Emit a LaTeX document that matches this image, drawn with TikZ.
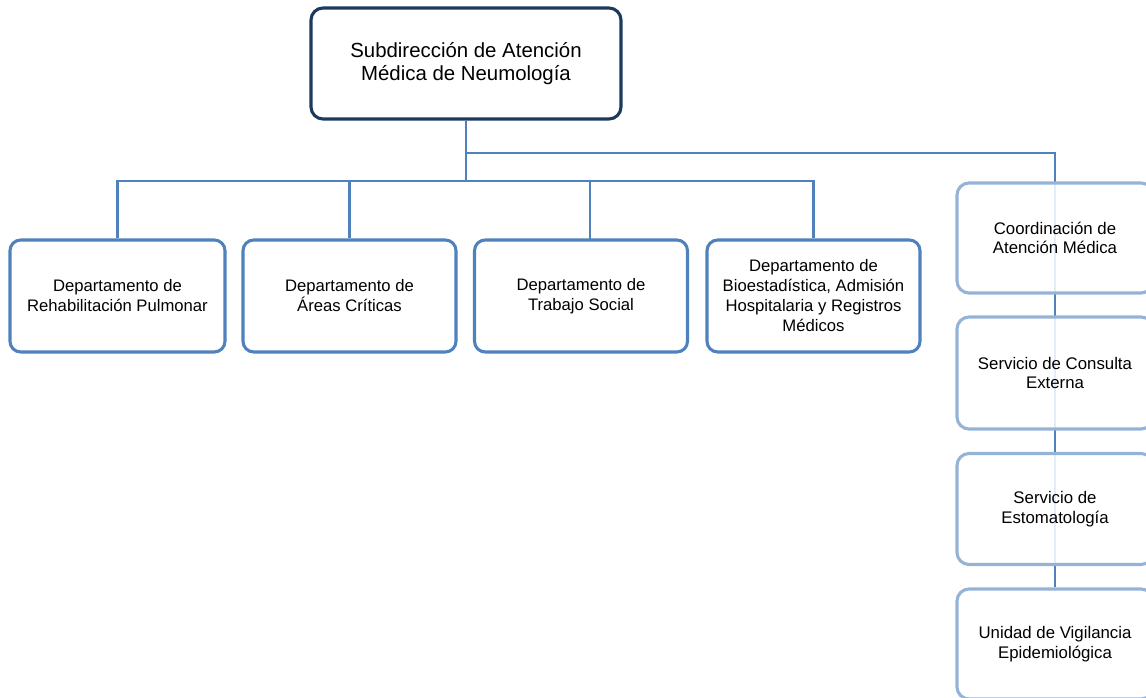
\documentclass[tikz,border=0pt]{standalone}
\usepackage{fontspec}
\setmainfont{Liberation Sans}
\usetikzlibrary{backgrounds}
\definecolor{linkblue}{HTML}{4F81BD}
\definecolor{navy}{HTML}{1B3A5E}
\definecolor{paleblue}{HTML}{95B3D7}
\begin{document}
\begin{tikzpicture}[x=0.75pt,y=-0.75pt,
  box/.style={draw=linkblue, line width=2.3pt, rounded corners=8pt, fill=white,
    align=center, font=\fontsize{12.5pt}{15pt}\selectfont, inner sep=0pt,
    minimum height=112*0.75pt},
  topbox/.style={draw=navy, line width=2.3pt, rounded corners=9pt, fill=white,
    align=center, font=\fontsize{15.3pt}{17.3pt}\selectfont, inner sep=0pt,
    minimum width=310*0.75pt, minimum height=111*0.75pt},
  sidebox/.style={draw=paleblue, line width=2.3pt, rounded corners=9pt,
    fill=white, fill opacity=0.85, text opacity=1, draw opacity=1,
    align=center, font=\fontsize{12.6pt}{14.5pt}\selectfont, inner sep=0pt,
    minimum width=196*0.75pt},
  conn/.style={draw=linkblue, line width=1.9pt}]
\useasboundingbox (0,0) rectangle (1146,698);
\clip (0,0) rectangle (1146,698);

\node[topbox] (top) at (466,63.5) {Subdirección de Atención\\Médica de Neumología};

\node[box, minimum width=215*0.75pt] (b1) at (117.5,296) {Departamento de\\Rehabilitación Pulmonar};
\node[box, minimum width=213*0.75pt] (b2) at (349.5,296) {Departamento de\\Áreas Críticas};
\node[box, minimum width=213*0.75pt] (b3) at (581,296) {Departamento de\\Trabajo Social};
\node[box, minimum width=213*0.75pt] (b4) at (813.5,296) {Departamento de\\Bioestadística, Admisión\\Hospitalaria y Registros\\Médicos};

\node[sidebox, minimum height=110*0.75pt] (r1) at (1055,238) {Coordinación de\\Atención Médica};
\node[sidebox, minimum height=112*0.75pt] (r2) at (1055,373) {Servicio de Consulta\\Externa};
\node[sidebox, minimum height=111*0.75pt] (r3) at (1055,509) {Servicio de\\Estomatología};
\node[sidebox, minimum height=110*0.75pt] (r4) at (1055,644) {Unidad de Vigilancia\\Epidemiológica};

\coordinate (bar) at (466,181);
\coordinate (bar2) at (466,153);
\coordinate (b3in) at (590,240);

\begin{pgfonlayer}{background}
\draw[conn] (top.south) -- (bar);
\draw[conn] (b1.north) |- (b4.north |- bar) -- (b4.north);
\draw[conn] (bar) -| (b2.north);
\draw[conn] (bar) -| (b3in);
\draw[conn] (bar2) -| (r1.north);
\draw[conn] (r1.north) -- (r4.north);
\end{pgfonlayer}
\end{tikzpicture}
\end{document}
